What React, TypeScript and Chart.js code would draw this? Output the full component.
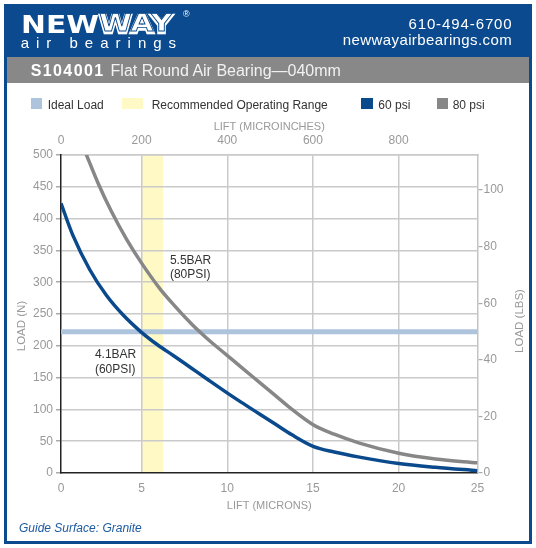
import React, { useEffect, useRef } from 'react';
import { Chart, registerables } from 'chart.js';

Chart.register(...registerables);

const FONT = '"Liberation Sans", Arial, Helvetica, sans-serif';

// ---- data ----
const UIN_PER_UM = 39.3701;
const LIFT_MIN_UM = 0.3;
const LIFT_MAX_UM = 25;
const LOAD_MAX_N = 500;
const N_PER_LB = 4.44822;

const LIFT_TICKS_UIN = [0, 200, 400, 600, 800];
const LIFT_TICK_LABELS_UM = ['0', '5', '10', '15', '20', '25'];
const LOAD_TICKS_N = [0, 50, 100, 150, 200, 250, 300, 350, 400, 450, 500];
const LOAD_TICKS_LB = [0, 20, 40, 60, 80, 100];

const LIFT_60_UM = [0.3, 1, 2, 3, 4, 5.04, 6, 7, 8, 9, 10.15, 11, 12, 13, 14, 15.25, 16.5, 18, 20.33, 22.5, 25];
const LOAD_60_N = [424, 374, 320, 279, 248, 222, 202, 184, 165.5, 147, 126, 111, 94, 77, 60, 42, 33, 25, 15, 9, 3.6];

const LIFT_80_UM = [1.78, 2.5, 3.3, 4.2, 5.08, 6.16, 7, 8, 8.54, 9.13, 10.15, 11, 12, 13, 14, 15.25, 16.5, 18, 20.33, 22.5, 25];
const LOAD_80_N = [502, 455.6, 410.7, 367, 330, 290, 264, 235.5, 221.7, 207.5, 185, 166, 144, 122, 100, 76, 61, 47, 31, 22, 16];

const IDEAL_LOAD_N = 222;
const OPERATING_RANGE_UIN = [200, 250];

const CURVE_LABELS = [['5.5BAR', '(80PSI)'], ['4.1BAR', '(60PSI)']];
const CURVE_LABEL_LIFT_UM = [6.76, 2.31];
const CURVE_LABEL_LOAD_N = [334, 185.5];

const BLUE = '#0b4a8e';
const CURVE_BLUE = '#0a4a8c';
const CURVE_GRAY = '#878787';
const IDEAL_COLOR = '#aec4dc';
const RANGE_COLOR = '#fff9c6';
const GRID = '#cacaca';
const TICK_TEXT = '#999999';

function drawVerticalTitle(ctx: any, text: string, x: number, y: number) {
  ctx.save();
  ctx.fillStyle = TICK_TEXT;
  ctx.font = '11.5px ' + FONT;
  ctx.textAlign = 'center';
  ctx.textBaseline = 'middle';
  ctx.translate(x, y);
  ctx.rotate(-Math.PI / 2);
  ctx.fillText(text, 0, 0);
  ctx.restore();
}

const annotPlugin = {
  id: 'annot',
  beforeDraw(chart: any) {
    const { ctx, chartArea, scales } = chart;
    const xa = scales.x2.getPixelForValue(OPERATING_RANGE_UIN[0]);
    const xb = scales.x2.getPixelForValue(OPERATING_RANGE_UIN[1]);
    ctx.save();
    ctx.fillStyle = RANGE_COLOR;
    ctx.fillRect(xa, chartArea.top, xb - xa, chartArea.bottom - chartArea.top);
    ctx.restore();
  },
  beforeDatasetsDraw(chart: any) {
    const { ctx, chartArea, scales } = chart;
    const y = scales.y.getPixelForValue(IDEAL_LOAD_N);
    ctx.save();
    ctx.strokeStyle = IDEAL_COLOR;
    ctx.lineWidth = 5;
    ctx.beginPath();
    ctx.moveTo(chartArea.left, y);
    ctx.lineTo(chartArea.right, y);
    ctx.stroke();
    ctx.restore();
  },
  afterDraw(chart: any) {
    const { ctx, chartArea, scales } = chart;
    ctx.save();
    ctx.fillStyle = '#333333';
    ctx.font = '12px ' + FONT;
    ctx.textAlign = 'left';
    ctx.textBaseline = 'middle';
    CURVE_LABELS.forEach((lines, i) => {
      const px = scales.x.getPixelForValue(CURVE_LABEL_LIFT_UM[i]);
      const py = scales.y.getPixelForValue(CURVE_LABEL_LOAD_N[i]);
      lines.forEach((t, j) => ctx.fillText(t, px, py + j * 14.3));
    });
    ctx.restore();
    const midY = (chartArea.top + chartArea.bottom) / 2;
    drawVerticalTitle(ctx, 'LOAD (N)', scales.y.left + 22, midY + 12);
    drawVerticalTitle(ctx, 'LOAD (LBS)', scales.y2.right - 16.5, midY + 7);
  },
};

function ChartCanvas() {
  const ref = useRef<HTMLCanvasElement | null>(null);
  useEffect(() => {
    if (!ref.current) return;
    Chart.defaults.font.family = FONT;
    const tickFont = { size: 12, family: FONT };
    const titleFont = { size: 11, family: FONT };
    const chart = new Chart(ref.current, {
      type: 'line',
      data: {
        datasets: [
          {
            label: '60 psi',
            data: LIFT_60_UM.map((x, i) => ({ x, y: LOAD_60_N[i] })),
            borderColor: CURVE_BLUE,
            borderWidth: 3.5,
            pointRadius: 0,
            cubicInterpolationMode: 'monotone',
            xAxisID: 'x',
            yAxisID: 'y',
          },
          {
            label: '80 psi',
            data: LIFT_80_UM.map((x, i) => ({ x, y: LOAD_80_N[i] })),
            borderColor: CURVE_GRAY,
            borderWidth: 3.5,
            pointRadius: 0,
            cubicInterpolationMode: 'monotone',
            xAxisID: 'x',
            yAxisID: 'y',
          },
        ],
      },
      options: {
        responsive: false,
        animation: false,
        layout: { padding: 0 },
        plugins: { legend: { display: false }, tooltip: { enabled: false } },
        scales: {
          x: {
            type: 'linear',
            position: 'bottom',
            min: LIFT_MIN_UM,
            max: LIFT_MAX_UM,
            afterBuildTicks: (s: any) => {
              s.ticks = LIFT_TICK_LABELS_UM.map((_, i) => ({
                value:
                  i === 0
                    ? LIFT_MIN_UM
                    : i === LIFT_TICK_LABELS_UM.length - 1
                    ? LIFT_MAX_UM
                    : LIFT_TICKS_UIN[i] / UIN_PER_UM,
              }));
            },
            afterFit: (s: any) => {
              s.height = 75;
            },
            ticks: {
              callback: (_v: any, i: number) => LIFT_TICK_LABELS_UM[i],
              autoSkip: false,
              maxRotation: 0,
              padding: 8,
              color: TICK_TEXT,
              font: tickFont,
            },
            grid: { display: false, drawTicks: false },
            border: { display: true, color: '#222222', width: 1.5 },
            title: {
              display: true,
              text: 'LIFT (MICRONS)',
              color: TICK_TEXT,
              font: titleFont,
              padding: { top: 0, bottom: 35 },
            },
          },
          x2: {
            type: 'linear',
            position: 'top',
            min: LIFT_MIN_UM * UIN_PER_UM,
            max: LIFT_MAX_UM * UIN_PER_UM,
            afterBuildTicks: (s: any) => {
              s.ticks = LIFT_TICKS_UIN.map((v, i) => ({ value: i === 0 ? LIFT_MIN_UM * UIN_PER_UM : v }));
            },
            afterFit: (s: any) => {
              s.height = 155;
            },
            ticks: {
              callback: (_v: any, i: number) => String(LIFT_TICKS_UIN[i]),
              autoSkip: false,
              maxRotation: 0,
              padding: 7,
              color: TICK_TEXT,
              font: tickFont,
            },
            grid: {
              color: (c: any) => (c.index === 0 ? 'rgba(0,0,0,0)' : GRID),
              lineWidth: 1.5,
              drawTicks: false,
            },
            border: { display: true, color: GRID, width: 1.5 },
            title: {
              display: true,
              text: 'LIFT (MICROINCHES)',
              color: TICK_TEXT,
              font: titleFont,
              padding: { top: 120, bottom: 0 },
            },
          },
          y: {
            type: 'linear',
            position: 'left',
            min: 0,
            max: LOAD_MAX_N,
            afterBuildTicks: (s: any) => {
              s.ticks = LOAD_TICKS_N.map((v) => ({ value: v }));
            },
            afterFit: (s: any) => {
              s.width = 61;
            },
            ticks: { padding: 3, color: TICK_TEXT, font: tickFont },
            grid: {
              color: (c: any) => (c.index === 0 ? 'rgba(0,0,0,0)' : GRID),
              tickColor: '#aaaaaa',
              tickLength: 5,
              lineWidth: 1.5,
            },
            border: { display: true, color: '#222222', width: 1.5 },
          },
          y2: {
            type: 'linear',
            position: 'right',
            min: 0,
            max: LOAD_MAX_N / N_PER_LB,
            afterBuildTicks: (s: any) => {
              s.ticks = LOAD_TICKS_LB.map((v) => ({ value: v }));
            },
            afterFit: (s: any) => {
              s.width = 536 - 477.5;
            },
            ticks: { padding: 1, color: TICK_TEXT, font: tickFont },
            grid: { drawOnChartArea: false, drawTicks: true, tickLength: 5, tickColor: '#aaaaaa', lineWidth: 1.2 },
            border: { display: true, color: '#c4c4c4', width: 1.5 },
          },
        },
      },
      plugins: [annotPlugin],
    } as any);
    return () => chart.destroy();
  }, []);
  return <canvas ref={ref} width={536} height={548} style={{ position: 'absolute', left: 0, top: 0 }} />;
}

function LegendItem(props: { x: number; w: number; color: string; textX: number; text: string }) {
  return (
    <>
      <div style={{ position: 'absolute', left: props.x, top: 98, width: props.w, height: 11, background: props.color }} />
      <div
        style={{
          position: 'absolute',
          left: props.textX,
          top: 98.8,
          fontSize: 12,
          lineHeight: '12px',
          color: '#333',
          whiteSpace: 'nowrap',
          fontFamily: FONT,
        }}
      >
        {props.text}
      </div>
    </>
  );
}

export default function App() {
  return (
    <div style={{ position: 'absolute', left: 0, top: 0, width: 536, height: 548, background: '#fff', fontFamily: FONT }}>
      <div
        style={{
          position: 'absolute',
          left: 4,
          top: 4,
          width: 528,
          height: 540,
          border: `3px solid ${BLUE}`,
          boxSizing: 'border-box',
        }}
      />
      <div style={{ position: 'absolute', left: 4, top: 4, width: 528, height: 53.5, background: BLUE }} />
      <div style={{ position: 'absolute', left: 7, top: 57.3, width: 522, height: 26, background: '#888888' }} />
      <ChartCanvas />
      {/* logo */}
      <div
        style={{
          position: 'absolute',
          left: 20.5,
          top: 12,
          fontFamily: '"DejaVu Sans", sans-serif',
          fontWeight: 900,
          fontSize: 25,
          lineHeight: '25px',
          color: '#fff',
          transform: 'scaleX(1.19)',
          transformOrigin: 'left top',
          whiteSpace: 'nowrap',
        }}
      >
        NEW
        <span style={{ position: 'relative' }}>
          <span style={{ WebkitTextStroke: '2.5px #fff' }}>WAY</span>
          <span
            style={{
              position: 'absolute',
              left: 0,
              top: 0,
              color: 'transparent',
              WebkitTextStroke: `0.8px ${BLUE}`,
            }}
          >
            WAY
          </span>
        </span>
      </div>
      <div style={{ position: 'absolute', left: 183, top: 9, fontSize: 9, color: '#fff' }}>®</div>
      <div
        style={{
          position: 'absolute',
          left: 20.7,
          top: 34.6,
          fontSize: 15,
          lineHeight: '15px',
          letterSpacing: 7,
          color: '#fff',
          whiteSpace: 'nowrap',
        }}
      >
        air bearings
      </div>
      <div
        style={{
          position: 'absolute',
          right: 536 - 511.7 - 0.9,
          top: 15.6,
          fontSize: 15,
          lineHeight: '15px',
          letterSpacing: 0.9,
          color: '#fff',
          whiteSpace: 'nowrap',
        }}
      >
        610-494-6700
      </div>
      <div
        style={{
          position: 'absolute',
          right: 536 - 511.7 - 0.4,
          top: 32.3,
          fontSize: 15,
          lineHeight: '15px',
          letterSpacing: 0.4,
          color: '#fff',
          whiteSpace: 'nowrap',
        }}
      >
        newwayairbearings.com
      </div>
      <div
        style={{
          position: 'absolute',
          left: 30.7,
          top: 63.2,
          fontSize: 16,
          lineHeight: '16px',
          color: '#fff',
          whiteSpace: 'nowrap',
        }}
      >
        <span style={{ fontWeight: 'bold', letterSpacing: 1.4 }}>S104001</span>
        <span style={{ marginLeft: 6, color: '#f2f2f2' }}>Flat Round Air Bearing—040mm</span>
      </div>
      <LegendItem x={30.7} w={11.6} color={IDEAL_COLOR} textX={47.7} text="Ideal Load" />
      <LegendItem x={121.7} w={21.6} color={RANGE_COLOR} textX={151.7} text="Recommended Operating Range" />
      <LegendItem x={361} w={12.3} color={CURVE_BLUE} textX={378.3} text="60 psi" />
      <LegendItem x={436.7} w={11.6} color={CURVE_GRAY} textX={452.7} text="80 psi" />
      <div
        style={{
          position: 'absolute',
          left: 19,
          top: 522.3,
          fontSize: 12,
          lineHeight: '12px',
          fontStyle: 'italic',
          color: '#1d5aa0',
          whiteSpace: 'nowrap',
        }}
      >
        Guide Surface: Granite
      </div>
    </div>
  );
}
